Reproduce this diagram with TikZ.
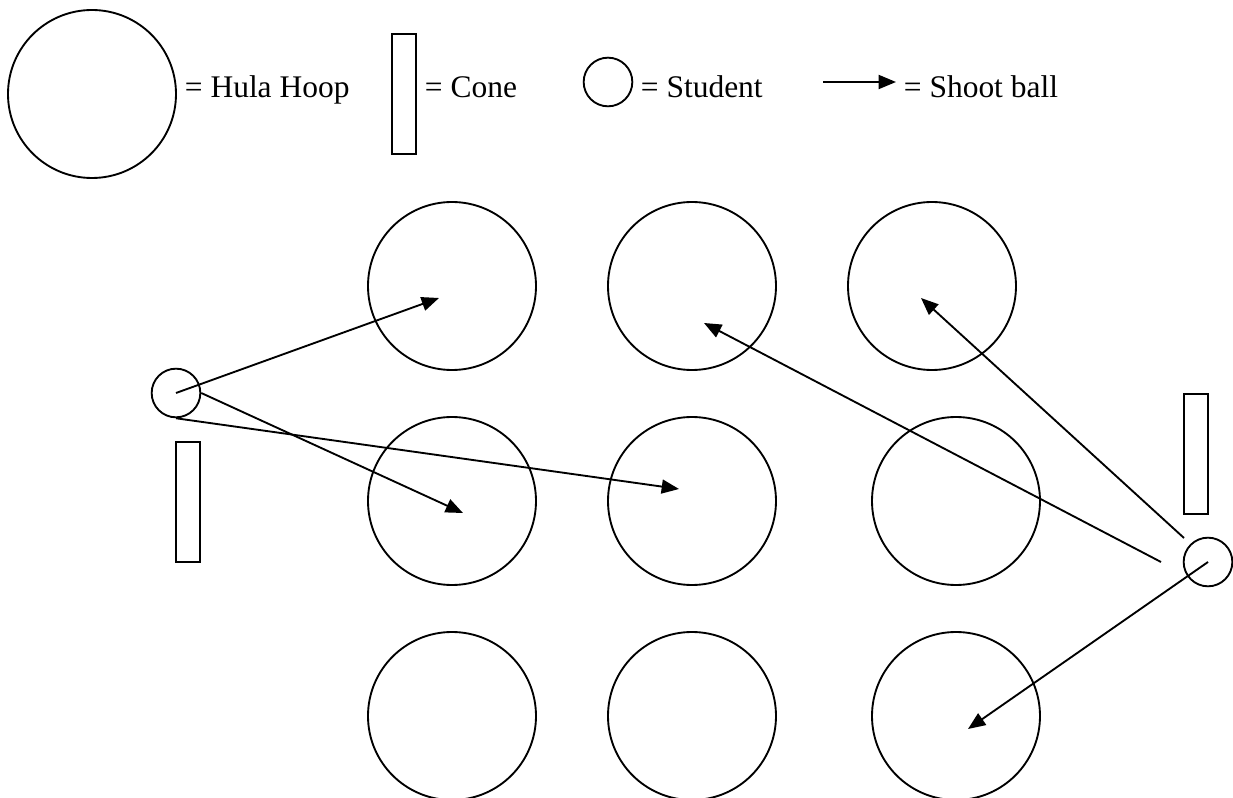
\documentclass[tikz,border=0pt]{standalone}
\usepackage{fontspec}
\setmainfont{Liberation Serif}
\usetikzlibrary{arrows.meta}

\begin{document}
\begin{tikzpicture}[x=0.75pt,y=-0.75pt,line width=1.4pt,
  hoop/.style={draw,circle,minimum size=126pt,inner sep=0pt},
  student/.style={draw,circle,minimum size=36.5pt,inner sep=0pt},
  cone/.style={draw,rectangle,minimum width=18pt,minimum height=90.5pt,inner sep=0pt},
  key/.style={anchor=base west,inner sep=0pt,font=\fontsize{23.6}{28}\selectfont},
  shot/.style={-{Triangle[length=13pt,width=10.5pt]}}]
\useasboundingbox (0,0) rectangle (1233,798);
% key
\node[hoop] (keyhoop) at (92,94) {};
\node[key] (keyhooptxt) at (184,98) {= Hula Hoop};
\node[cone] (keycone) at (404,94) {};
\node[key] (keyconetxt) at (424,98) {= Cone};
\node[student] (keystud) at (608,82) {};
\node[key] (keystudtxt) at (640,98) {= Student};
\coordinate (keyshota) at (823,82);
\coordinate (keyshotb) at (896,82);
\draw[shot] (keyshota) -- (keyshotb);
\node[key] (keyshottxt) at (903,98) {= Shoot ball};
% hoops
\node[hoop] (h11) at (452,286) {};
\node[hoop] (h12) at (692,286) {};
\node[hoop] (h13) at (932,286) {};
\node[hoop] (h21) at (452,501) {};
\node[hoop] (h22) at (692,501) {};
\node[hoop] (h23) at (956,501) {};
\node[hoop] (h31) at (452,716) {};
\node[hoop] (h32) at (692,716) {};
\node[hoop] (h33) at (956,716) {};
% students and cones
\node[student] (sl) at (176,393) {};
\node[cone] (cl) at (188,502) {};
\node[student] (sr) at (1208,562) {};
\node[cone] (cr) at (1196,454) {};
% shots
\coordinate (t1) at (439,298);
\coordinate (t2) at (463,513);
\coordinate (t3) at (679,489);
\coordinate (t4) at (704,323);
\coordinate (t5) at (921,298);
\coordinate (t6) at (968,729);
\coordinate (sra) at (1161,562);
\coordinate (srb) at (1184,538);
\draw[shot] (sl.center) -- (t1);
\draw[shot] (sl.east) -- (t2);
\draw[shot] (sl.south) -- (t3);
\draw[shot] (sra) -- (t4);
\draw[shot] (srb) -- (t5);
\draw[shot] (sr.center) -- (t6);
\end{tikzpicture}
\end{document}
